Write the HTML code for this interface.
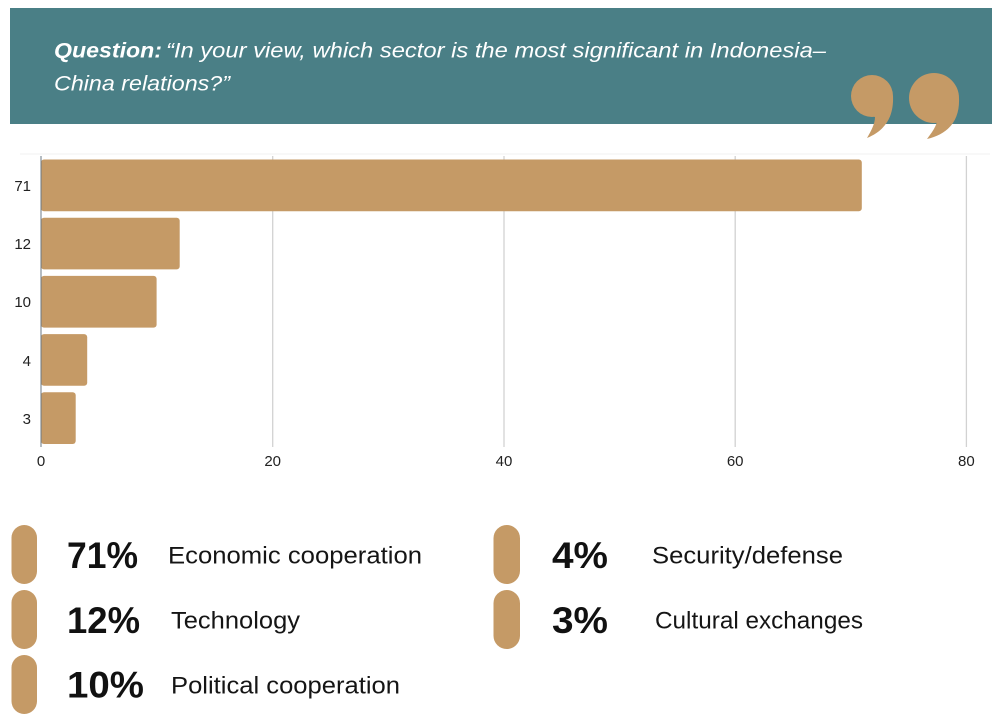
<!DOCTYPE html>
<html>
<head>
<meta charset="utf-8">
<style>
  html, body { margin: 0; padding: 0; background: #ffffff; }
  svg { display: block; }
  text { font-family: "Liberation Sans", "DejaVu Sans", sans-serif; }
</style>
</head>
<body>
<svg width="1000" height="727" viewBox="0 0 1000 727" xmlns="http://www.w3.org/2000/svg">
  <rect x="0" y="0" width="1000" height="727" fill="#ffffff"/>

  <!-- Header -->
  <rect x="10" y="8" width="982" height="116" fill="#4a7f86"/>
  <text x="54" y="57.3" font-size="21.5" fill="#ffffff" font-style="italic" font-weight="bold" textLength="108" lengthAdjust="spacingAndGlyphs">Question:</text>
  <text x="166" y="57.3" font-size="21.5" fill="#ffffff" font-style="italic" textLength="660" lengthAdjust="spacingAndGlyphs">“In your view, which sector is the most significant in Indonesia–</text>
  <text x="54" y="90.7" font-size="21.5" fill="#ffffff" font-style="italic" textLength="176" lengthAdjust="spacingAndGlyphs">China relations?”</text>

  <!-- Quote marks -->
  <g fill="#c59a66">
    <circle cx="872" cy="96" r="21"/>
    <path d="M893 96 C894 118 884 131 867 138 C871 131 875 124 875 117 L860 112 Z"/>
    <circle cx="934" cy="98" r="25"/>
    <path d="M959 98 C960 121 948 134 927 139 C933 131 937 125 937 120 L920 116 Z"/>
  </g>

  <!-- faint top line -->
  <line x1="20" y1="154" x2="990" y2="154" stroke="#f2f2f2" stroke-width="1"/>

  <!-- Gridlines -->
  <g stroke="#d2d2d2" stroke-width="1.3">
    <line x1="272.7" y1="156" x2="272.7" y2="447"/>
    <line x1="504" y1="156" x2="504" y2="447"/>
    <line x1="735.2" y1="156" x2="735.2" y2="447"/>
    <line x1="966.4" y1="156" x2="966.4" y2="447"/>
  </g>

  <!-- Bars -->
  <g fill="#c59a66">
    <rect x="41" y="159.5" width="820.8" height="51.7" rx="3"/>
    <rect x="41" y="217.7" width="138.7" height="51.7" rx="3"/>
    <rect x="41" y="275.9" width="115.6" height="51.7" rx="3"/>
    <rect x="41" y="334.1" width="46.2" height="51.7" rx="3"/>
    <rect x="41" y="392.3" width="34.7" height="51.7" rx="3"/>
  </g>
  <line x1="41" y1="156" x2="41" y2="447" stroke="#6b7884" stroke-width="1"/>

  <!-- Y tick labels -->
  <g font-size="15" fill="#222222" text-anchor="end">
    <text x="31" y="191">71</text>
    <text x="31" y="249">12</text>
    <text x="31" y="307">10</text>
    <text x="31" y="366">4</text>
    <text x="31" y="424">3</text>
  </g>

  <!-- X tick labels -->
  <g font-size="15" fill="#222222" text-anchor="middle">
    <text x="41" y="466">0</text>
    <text x="272.7" y="466">20</text>
    <text x="504" y="466">40</text>
    <text x="735.2" y="466">60</text>
    <text x="966.4" y="466">80</text>
  </g>

  <!-- Legend pills -->
  <g fill="#c59a66">
    <rect x="11.5" y="525" width="25.5" height="59" rx="12.7"/>
    <rect x="11.5" y="590" width="25.5" height="59" rx="12.7"/>
    <rect x="11.5" y="655" width="25.5" height="59" rx="12.7"/>
    <rect x="493.5" y="525" width="26.5" height="59" rx="13.2"/>
    <rect x="493.5" y="590" width="26.5" height="59" rx="13.2"/>
  </g>

  <!-- Legend percentages -->
  <g font-size="37" font-weight="bold" fill="#111111">
    <text x="67" y="568" textLength="71" lengthAdjust="spacingAndGlyphs">71%</text>
    <text x="67" y="633" textLength="73" lengthAdjust="spacingAndGlyphs">12%</text>
    <text x="67" y="697.5" textLength="77" lengthAdjust="spacingAndGlyphs">10%</text>
    <text x="552" y="568" textLength="56" lengthAdjust="spacingAndGlyphs">4%</text>
    <text x="552" y="633" textLength="56" lengthAdjust="spacingAndGlyphs">3%</text>
  </g>

  <!-- Legend labels -->
  <g font-size="24.5" fill="#151515">
    <text x="168" y="563.3" textLength="254" lengthAdjust="spacingAndGlyphs">Economic cooperation</text>
    <text x="171" y="628.3" textLength="129" lengthAdjust="spacingAndGlyphs">Technology</text>
    <text x="171" y="693.3" textLength="229" lengthAdjust="spacingAndGlyphs">Political cooperation</text>
    <text x="652" y="563.3" textLength="191" lengthAdjust="spacingAndGlyphs">Security/defense</text>
    <text x="655" y="628.3" textLength="208" lengthAdjust="spacingAndGlyphs">Cultural exchanges</text>
  </g>
</svg>
</body>
</html>
